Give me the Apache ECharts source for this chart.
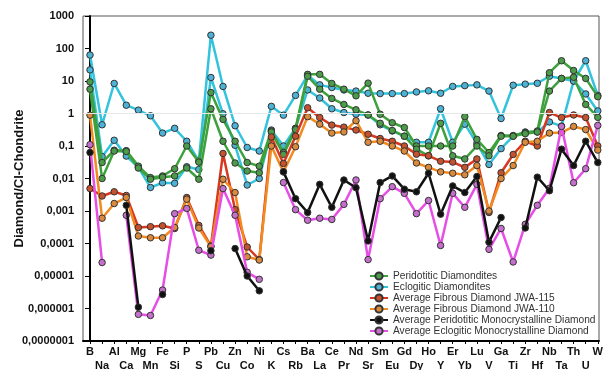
<!DOCTYPE html>
<html>
<head>
<meta charset="utf-8">
<script src="https://cdn.jsdelivr.net/npm/echarts@6/dist/echarts.min.js"></script>
<style>
  html, body { margin: 0; padding: 0; background: #fff; }
  #chart { width: 604px; height: 370px; }
</style>
</head>
<body>
<div id="chart"></div>
<script>
// element order along the x axis
const elements = ['B','Na','Al','Ca','Mg','Mn','Fe','Si','P','S','Pb','Cu','Zn','Co','Ni','K','Cs','Rb','Ba','La',
  'Ce','Pr','Nd','Sr','Sm','Eu','Gd','Dy','Ho','Y','Er','Yb','Lu','V','Ga','Ti','Zr','Hf','Nb','Ta','Th','U','W'];

// Peridotitic diamondites (two samples)
const periDiamA = [9.4, 0.031, 0.074, 0.072, 0.024, 0.0107, 0.012, 0.02, 0.1, 0.032, 4.4, 0.66, 0.14, 0.031, 0.024,
  0.29, 0.063, 0.35, 16, 16, 8.4, 5.6, 3.5, 8.6, 0.95, 0.52, 0.37, 0.1, 0.1, 0.1, 0.1, 0.8, 0.16, 0.063, 0.21, 0.21,
  0.26, 0.29, 18, 42, 21, 12, 3.3];
const periDiamB = [5.6, 0.01, 0.07, 0.068, 0.021, 0.0095, 0.011, 0.012, 0.021, 0.0095, 1.4, 0.14, 0.03, 0.017, 0.015,
  0.27, 0.055, 0.32, 14, 5.6, 2.9, 1.9, 1.3, 0.9, 0.5, 0.3, 0.2, 0.08, 0.05, 0.5, 0.05, 0.04, 0.1, 0.05, 0.2, 0.2,
  0.24, 0.27, 4.9, 12, 13, 1.9, 0.76];

// Eclogitic diamondites (two samples)
const ecloDiamA = [63, 0.45, 8.4, 1.8, 1.27, 0.85, 0.25, 0.35, 0.14, 0.035, 257, 6.8, 0.42, 0.09, 0.07, 1.66, 0.89,
  3.6, 15, 7.6, 6.3, 5.3, 4.9, 4.2, 4.1, 4.1, 4.1, 4.6, 5, 4.2, 6.8, 7.2, 7.6, 4.9, 0.7, 7.4, 8, 8.5, 14, 12, 10, 42, 3.6];
const ecloDiamB = [22, 0.047, 0.15, 0.049, 0.022, 0.0053, 0.0074, 0.0071, 0.023, 0.019, 12.8, 0.98, 0.105, 0.0063,
  0.01, 0.31, 0.1, 0.35, 5.3, 3, 1.4, 1.07, 0.95, 0.9, 0.45, 0.29, 0.2, 0.13, 0.13, 1.4, 0.13, 0.47, 0.12, 0.027,
  0.083, 0.2, 0.27, 0.27, 0.55, 0.41, 10, 4, 1.2];

// average fibrous diamonds
const fibrous115 = [0.0049, 0.0029, 0.0039, 0.003, 0.00031, 0.00033, 0.00035, 0.00029, 0.0026, 0.00036, 8.4e-5,
  0.059, 0.0011, 7.8e-5, 3.2e-5, 0.19, 0.029, 0.2, 1.5, 0.75, 0.44, 0.38, 0.31, 0.23, 0.17, 0.14, 0.1, 0.056, 0.05,
  0.034, 0.032, 0.022, 0.04, 0.0009, 0.015, 0.055, 0.14, 0.1, 1.07, 0.75, 0.9, 0.75, 0.1];
const fibrous110 = [0.89, 0.0006, 0.0017, 0.0026, 0.00017, 0.00015, 0.00015, 0.00031, 0.0023, 0.0003, 8e-5, 0.0095,
  0.0037, 3.9e-5, 3.1e-5, 0.1, 0.016, 0.095, 0.8, 0.47, 0.25, 0.27, 0.6, 0.13, 0.14, 0.1, 0.07, 0.03, 0.022, 0.016,
  0.0145, 0.013, 0.025, 0.001, 0.01, 0.025, 0.13, 0.14, 0.25, 0.26, 0.4, 0.32, 0.075];

// average monocrystalline diamonds (null = not measured)
const periMono = [0.063, null, null, 0.0015, 1.1e-6, null, 2.7e-6, null, null, null, 6e-5, null, 7e-5, 1e-5, 3.5e-6,
  null, 0.016, 0.0024, 0.0009, 0.0066, 0.0013, 0.009, 0.0052, 0.00012, 0.0075, 0.012, 0.0047, 0.0039, 0.0145, 0.0008,
  0.0059, 0.0037, 0.0115, 0.00011, 0.00063, null, 0.0003, 0.011, 0.0042, 0.08, 0.025, 0.14, 0.031];
const ecloMono = [0.11, 2.6e-5, null, 0.00074, 6.6e-7, 6.1e-7, 3.7e-6, 0.00083, 0.0012, 6.2e-5, 4.4e-5, 0.0049,
  0.00074, 1.3e-5, 7.9e-6, null, 0.0075, 0.0011, 0.00052, 0.0006, 0.00055, 0.0016, 0.009, 3.2e-5, 0.0024, 0.0056,
  0.0035, 0.00083, 0.0021, 8.7e-5, 0.0035, 0.0013, 0.0066, 6.6e-5, 0.00029, 2.7e-5, 0.00039, 0.0015, 0.005, 0.4,
  0.0074, 0.02, 0.43];

const names = [
  'Peridotitic Diamondites',
  'Eclogitic Diamondites',
  'Average Fibrous Diamond JWA-115',
  'Average Fibrous Diamond JWA-110',
  'Average Peridotitic Monocrystalline Diamond',
  'Average Eclogitic Monocrystalline Diamond'
];

function lineSeries(name, values, lineColor, dotColor, z) {
  return {
    name: name,
    type: 'line',
    data: values.map((v, i) => [i, v == null ? '-' : v]),
    symbol: 'circle',
    symbolSize: 6.5,
    connectNulls: false,
    z: z,
    lineStyle: { color: lineColor, width: 2.5 },
    itemStyle: { color: dotColor, borderColor: '#333', borderWidth: 1 }
  };
}

const series = [
  lineSeries(names[1], ecloDiamA, '#33c3dc', '#4db3d6', 2),
  lineSeries(names[1], ecloDiamB, '#33c3dc', '#4db3d6', 2),
  lineSeries(names[0], periDiamA, '#3da13d', '#4b9b4b', 3),
  lineSeries(names[0], periDiamB, '#3da13d', '#4b9b4b', 3),
  lineSeries(names[2], fibrous115, '#d8381f', '#c4522e', 4),
  lineSeries(names[3], fibrous110, '#f28a22', '#d98a3c', 4),
  lineSeries(names[5], ecloMono, '#e64ee6', '#c46fcc', 5),
  lineSeries(names[4], periMono, '#111111', '#111111', 6)
];
series[0].markLine = {
  silent: true, symbol: 'none', label: { show: false },
  lineStyle: { color: '#e8e8e8', width: 1, type: 'solid' },
  data: [{ yAxis: 1 }]
};

function decadeLabel(v) {
  const e = Math.round(Math.log10(v));
  if (e >= 0) return String(Math.pow(10, e));
  return '0,' + '0'.repeat(-e - 1) + '1';
}

const chart = echarts.init(document.getElementById('chart'), null, { renderer: 'canvas' });
chart.setOption({
  animation: false,
  backgroundColor: '#fff',
  textStyle: { fontFamily: 'Arial, "Liberation Sans", sans-serif' },
  grid: {
    left: 83, right: 5, top: 16, bottom: 29, outerBoundsMode: 'none',
    show: true, borderColor: '#555', borderWidth: 1
  },
  legend: {
    data: names,
    orient: 'vertical',
    left: 364,
    top: 266,
    itemWidth: 18,
    itemHeight: 9,
    itemGap: 1,
    textStyle: { fontSize: 10.2, lineHeight: 10, color: '#333', fontFamily: 'Arial, "Liberation Sans", sans-serif' }
  },
  xAxis: {
    type: 'value',
    min: -0.58,
    max: 42.1,
    splitLine: { show: false },
    axisLine: { onZero: false, lineStyle: { color: '#000', width: 2 } },
    axisTick: { customValues: elements.map((_, i) => i), length: 3, lineStyle: { color: '#000' } },
    axisLabel: {
      customValues: elements.map((_, i) => i),
      formatter: v => {
        const i = Math.round(v);
        return i % 2 ? '\n' + elements[i] : elements[i];
      },
      color: '#111',
      fontWeight: 'bold',
      fontSize: 11,
      lineHeight: 14,
      margin: 4
    }
  },
  yAxis: {
    type: 'log',
    logBase: 10,
    min: 1e-7,
    max: 1000,
    interval: 1,
    name: 'Diamond/Cl-Chondrite',
    nameLocation: 'middle',
    nameGap: 57,
    nameMoveOverlap: false,
    nameTextStyle: { fontWeight: 'bold', fontSize: 13, color: '#111' },
    splitLine: { show: false },
    axisLine: { show: true, lineStyle: { color: '#000', width: 2 } },
    axisTick: { show: true, length: 5, lineStyle: { color: '#000' } },
    axisLabel: { interval: 0, formatter: decadeLabel, color: '#111', fontWeight: 'bold', fontSize: 11, margin: 9 }
  },
  series: series
});
</script>
</body>
</html>
